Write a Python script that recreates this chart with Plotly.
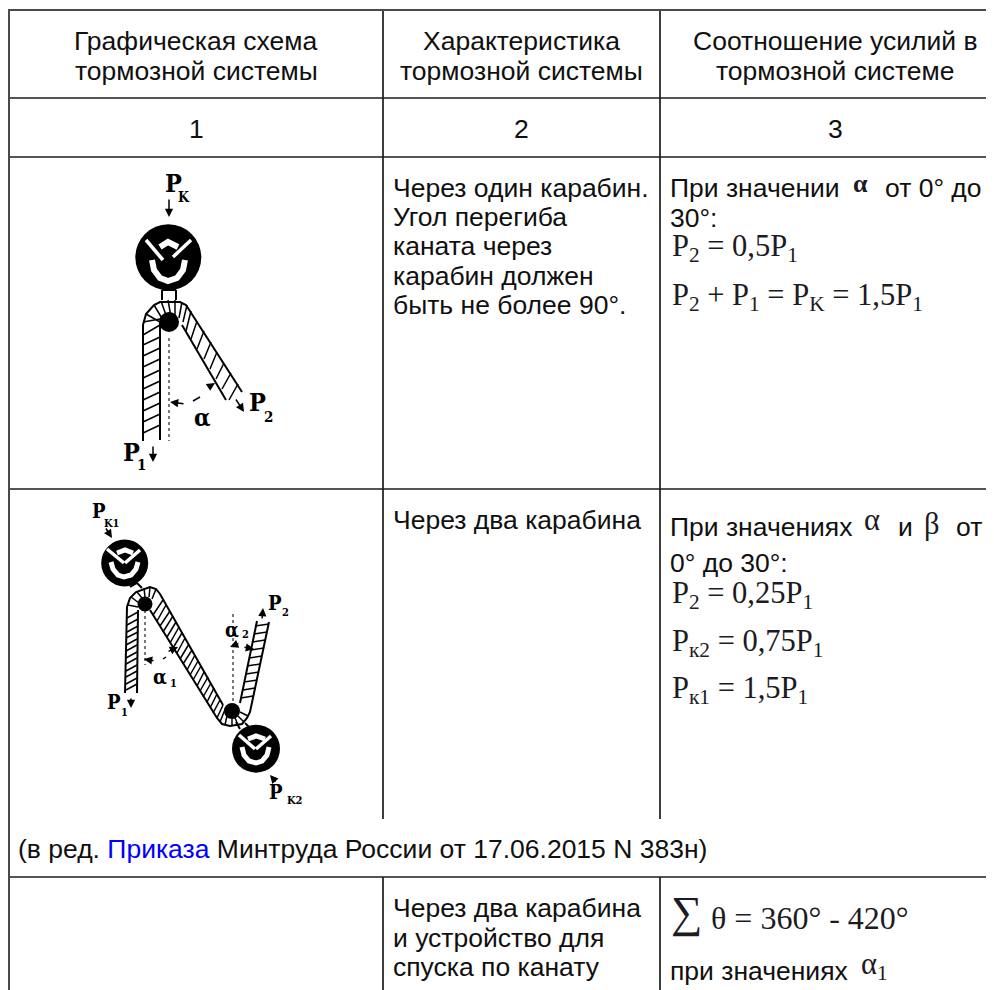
import plotly.graph_objects as go

SANS = "Liberation Sans"
SERIF = "Liberation Serif"
LABEL = "DejaVu Serif Condensed"
INK = "#101010"
MATH = "#1c1a22"

# table rules: (x0, y0, x1, y1)
rules_dark = [(9, 98, 994, 98), (9, 157, 994, 157), (9, 489, 994, 489), (9, 877, 994, 877),
              (383, 9, 383, 819), (660, 9, 660, 819), (383, 877, 383, 990), (660, 877, 660, 990)]
rules_grey = [(9, 10, 994, 10), (9, 9, 9, 990)]

# plain text: (x, y, text)
centre_texts = [
    (196, 41, "Графическая схема"), (196, 71, "тормозной системы"),
    (521, 41, "Характеристика"), (521, 71, "тормозной системы"),
    (835, 41, "Соотношение усилий в"), (835, 71, "тормозной системе"),
    (196, 129, "1"), (521, 129, "2"), (835, 129, "3"),
]
left_texts = [
    (391, 188, "Через один карабин."), (391, 217, "Угол перегиба"), (391, 246, "каната через"),
    (391, 276, "карабин должен"), (391, 305, "быть не более 90°."),
    (391, 520, "Через два карабина"),
    (668, 188, "При значении"), (883, 188, "от 0° до"), (668, 218, "30°:"),
    (668, 527, "При значениях"), (896, 527, "и"), (954, 527, "от"), (668, 563, "0° до 30°:"),
    (16, 849, '(в ред. <span style="color:#0000ff">Приказа</span> Минтруда России от 17.06.2015 N 383н)'),
    (391, 908, "Через два карабина"), (391, 938, "и устройство для"), (391, 967, "спуска по канату"),
    (668, 971, "при значениях"),
]
math_texts = [
    (670, 248, "P<sub>2</sub> = 0,5P<sub>1</sub>"),
    (670, 297, "P<sub>2</sub> + P<sub>1</sub> = P<sub>K</sub> = 1,5P<sub>1</sub>"),
    (670, 595, "P<sub>2</sub> = 0,25P<sub>1</sub>"),
    (670, 643, "P<sub>к2</sub> = 0,75P<sub>1</sub>"),
    (670, 690, "P<sub>к1</sub> = 1,5P<sub>1</sub>"),
    (862, 520, "α"), (922, 524, "β"), (859, 966, "α<sub>1</sub>"),
]
sum_text = (709, 918, "θ = 360° - 420°")
bold_alpha = (851, 183, "<b>α</b>")
sigma_text = (669, 912, "∑")

# upper scheme, pixel positions
f1_rope = [
    [(143, 441), (143, 325), (146, 314), (154, 305), (160, 302), (180, 302), (186, 305), (242, 392)],
    [(160, 440), (160, 323)],
    [(182, 325), (226, 400)],
]
f1_hatch = [
    (143, 322, 160, 319), (143, 335, 160, 325), (143, 345, 160, 337), (143, 356, 160, 348),
    (143, 367, 160, 359), (143, 378, 160, 370), (143, 389, 160, 381), (143, 400, 160, 392),
    (143, 411, 160, 403), (143, 422, 160, 414), (143, 433, 160, 425),
    (146, 314, 160, 322), (154, 305, 163, 320), (161, 301, 167, 318), (168, 300, 171, 317),
    (175, 300, 175, 318), (182, 302, 179, 318), (187, 305, 183, 322),
    (191, 311, 186, 331), (197, 321, 191, 339), (204, 331, 197, 349), (211, 342, 204, 359),
    (217, 352, 210, 369), (224, 363, 216, 379), (231, 373, 222, 389), (238, 384, 229, 400),
]
f1_link = [[(162, 290), (162, 300)], [(176, 290), (176, 300)], [(162, 290), (176, 290)]]
f1_dash = [(169, 338), (169, 441)]
f1_circle = (168.3, 257.3, 33)
f1_pin = (169, 322, 10)
f1_v = [[(146, 240), (163, 260)], [(191, 240), (173, 257)]]
f1_arcs = [
    [(160, 247), (168, 242), (178, 247)],
    [(152, 260), (154, 270), (160, 278), (168, 281), (177, 278), (183, 270), (185, 260)],
]
f1_arrows = [(169, 198, 169, 217), (185, 404, 170, 402), (207, 388, 215, 383), (235, 398, 244, 412), (153, 445, 153, 462)]
f1_arcdash = [(193, 401), (200, 397)]
f1_labels = [
    (173, 183, 25, "P"), (184, 197, 14, "K"), (257, 402, 25, "P"), (268, 417, 15, "2"),
    (131, 452, 25, "P"), (141, 465, 15, "1"), (202, 417, 24, "α"),
]

# lower scheme
f2_rope = [
    [(125, 693), (127, 607), (130, 598), (136, 592), (150, 587), (156, 589), (160, 594), (223, 705)],
    [(137, 693), (138, 610)],
    [(150, 610), (217, 718), (222, 724), (230, 726), (242, 724), (247, 718), (250, 712), (269, 622)],
    [(240, 703), (257, 621)],
]
f2_hatch = [
    (126, 690, 137, 684), (126, 684, 137, 678), (126, 677, 137, 671), (126, 671, 137, 665),
    (126, 664, 137, 658), (126, 658, 137, 652), (126, 651, 137, 645), (126, 645, 137, 639),
    (126, 638, 138, 632), (127, 632, 138, 626), (127, 625, 138, 619), (127, 618, 138, 612),
    (128, 605, 138, 607), (131, 597, 139, 603), (137, 592, 142, 598), (144, 588, 145, 597),
    (150, 587, 149, 597), (156, 589, 152, 599),
    (163, 600, 153, 615), (166, 605, 157, 621), (170, 611, 160, 626), (173, 616, 163, 632),
    (176, 622, 167, 637), (179, 627, 170, 643), (182, 633, 173, 648), (185, 638, 177, 653),
    (189, 644, 180, 659), (192, 650, 183, 664), (195, 655, 187, 670), (198, 661, 190, 675),
    (201, 666, 193, 680), (204, 672, 197, 686), (208, 677, 200, 691), (211, 683, 203, 697),
    (214, 688, 207, 702), (217, 694, 210, 708), (220, 700, 213, 713), (223, 705, 217, 718),
    (226, 707, 220, 722), (228, 711, 225, 725), (232, 719, 232, 726), (235, 718, 238, 725),
    (238, 716, 244, 722), (240, 712, 248, 716),
    (241, 698, 253, 696), (243, 690, 255, 688), (244, 682, 257, 680), (246, 674, 259, 672),
    (247, 666, 260, 664), (249, 658, 262, 656), (251, 650, 264, 648), (252, 642, 265, 640),
    (254, 634, 267, 632), (255, 626, 269, 624),
]
f2_link = [[(130, 587), (137, 583), (142, 588)], [(236, 722), (240, 729)], [(245, 723), (249, 727)]]
f2_dash = [[(145, 610), (145, 665)], [(233, 614), (233, 703)]]
f2_circles = [(124.7, 563, 23.5), (256, 748.7, 24)]
f2_pins = [(145, 604, 7.5), (232, 711, 8)]
f2_v = [[(107, 549), (124, 563)], [(140, 550), (125, 563)],
        [(239, 735), (255, 749)], [(271, 736), (256, 749)]]
f2_arcs = [
    [(117, 553), (125, 550), (133, 553)],
    [(111, 562), (113, 569), (118, 575), (124, 577), (131, 575), (136, 569), (138, 562)],
    [(248, 739), (256, 736), (265, 739)],
    [(242, 747), (244, 755), (249, 761), (256, 763), (262, 761), (267, 755), (269, 747)],
]
f2_arrows = [
    (105, 527, 112, 538), (155, 661, 144, 659), (167, 652, 178, 647), (131, 697, 131, 708),
    (262, 620, 263, 608), (240, 643, 230, 647), (243, 647, 254, 649), (277, 783, 270, 775),
]
f2_arcdash = [(163, 659), (166, 657)]
f2_labels = [
    (99, 511, 20, "P"), (112, 523, 11, "K1"), (114, 702, 20, "P"), (124, 712, 11, "1"),
    (275, 603, 20, "P"), (285, 612, 11, "2"), (160, 677, 20, "α"), (173, 683, 11, "1"),
    (232, 630, 20, "α"), (245, 634, 11, "2"), (276, 792, 20, "P"), (295, 800, 11, "K2"),
]


def path_trace(segments, width, color, dash=None):
    xs, ys = [], []
    for seg in segments:
        xs += [p[0] for p in seg] + [None]
        ys += [p[1] for p in seg] + [None]
    return go.Scatter(x=xs, y=ys, mode="lines", hoverinfo="skip", showlegend=False,
                      line=dict(color=color, width=width, dash=dash))


def pairs(rows):
    return [[(r[0], r[1]), (r[2], r[3])] for r in rows]


fig = go.Figure()

fig.add_trace(path_trace(pairs(rules_dark), 1.7, "#1c1c1c"))
fig.add_trace(path_trace(pairs(rules_grey), 2, "#4a4a4a"))
fig.add_trace(path_trace(f1_rope + f1_link + f2_rope + f2_link, 2, "black"))
fig.add_trace(path_trace(pairs(f1_hatch) + pairs(f2_hatch), 1.5, "black"))
fig.add_trace(path_trace([f1_dash] + f2_dash, 1.3, "#333333", "3px,3px"))
fig.add_trace(path_trace([f1_arcdash, f2_arcdash], 1.5, "black"))

for cx, cy, r in [f1_circle, f1_pin] + f2_circles + f2_pins:
    fig.add_shape(type="circle", x0=cx - r, x1=cx + r, y0=cy - r, y1=cy + r,
                  fillcolor="black", line=dict(width=0), layer="above")

# white strokes have to sit over the discs, so they go on as shapes
for segs, w in [(f1_v + f2_v, 3.5), (f1_arcs, 6), (f2_arcs, 5)]:
    for seg in segs:
        path = "M " + " L ".join(f"{x},{y}" for x, y in seg)
        fig.add_shape(type="path", path=path, line=dict(color="white", width=w), layer="above")

for x0, y0, x1, y1 in f1_arrows + f2_arrows:
    fig.add_annotation(x=x1, y=y1, ax=x0, ay=y0, xref="x", yref="y", axref="x", ayref="y", text="",
                       showarrow=True, arrowhead=2, arrowsize=1.1, arrowwidth=1.5, arrowcolor="black")

for x, y, size, t in f1_labels + f2_labels:
    fig.add_annotation(x=x, y=y, text=f"<b>{t}</b>", showarrow=False, xanchor="center", yanchor="middle",
                       font=dict(family=LABEL, size=size, color="black"))

for x, y, t in centre_texts:
    fig.add_annotation(x=x, y=y, text=t, showarrow=False, xanchor="center", yanchor="middle",
                       font=dict(family=SANS, size=26.5, color=INK))
for x, y, t in left_texts:
    fig.add_annotation(x=x, y=y, text=t, showarrow=False, xanchor="left", yanchor="middle",
                       font=dict(family=SANS, size=26.5, color=INK))
for x, y, t in math_texts:
    fig.add_annotation(x=x, y=y, text=t, showarrow=False, xanchor="left", yanchor="middle",
                       font=dict(family=SERIF, size=30.5, color=MATH))
for (x, y, t), size in [(sum_text, 32), (bold_alpha, 26), (sigma_text, 44)]:
    fig.add_annotation(x=x, y=y, text=t, showarrow=False, xanchor="left", yanchor="middle",
                       font=dict(family=SERIF, size=size, color=MATH))

# the page keeps an 8px body margin, so the plot starts at 8,8 and the range starts there too
fig.update_layout(
    width=986, height=982, margin=dict(l=0, r=0, t=0, b=0),
    paper_bgcolor="white", plot_bgcolor="white", showlegend=False,
    xaxis=dict(range=[8, 994], visible=False, fixedrange=True),
    yaxis=dict(range=[990, 8], visible=False, fixedrange=True),
)

fig.write_html("out.html")
